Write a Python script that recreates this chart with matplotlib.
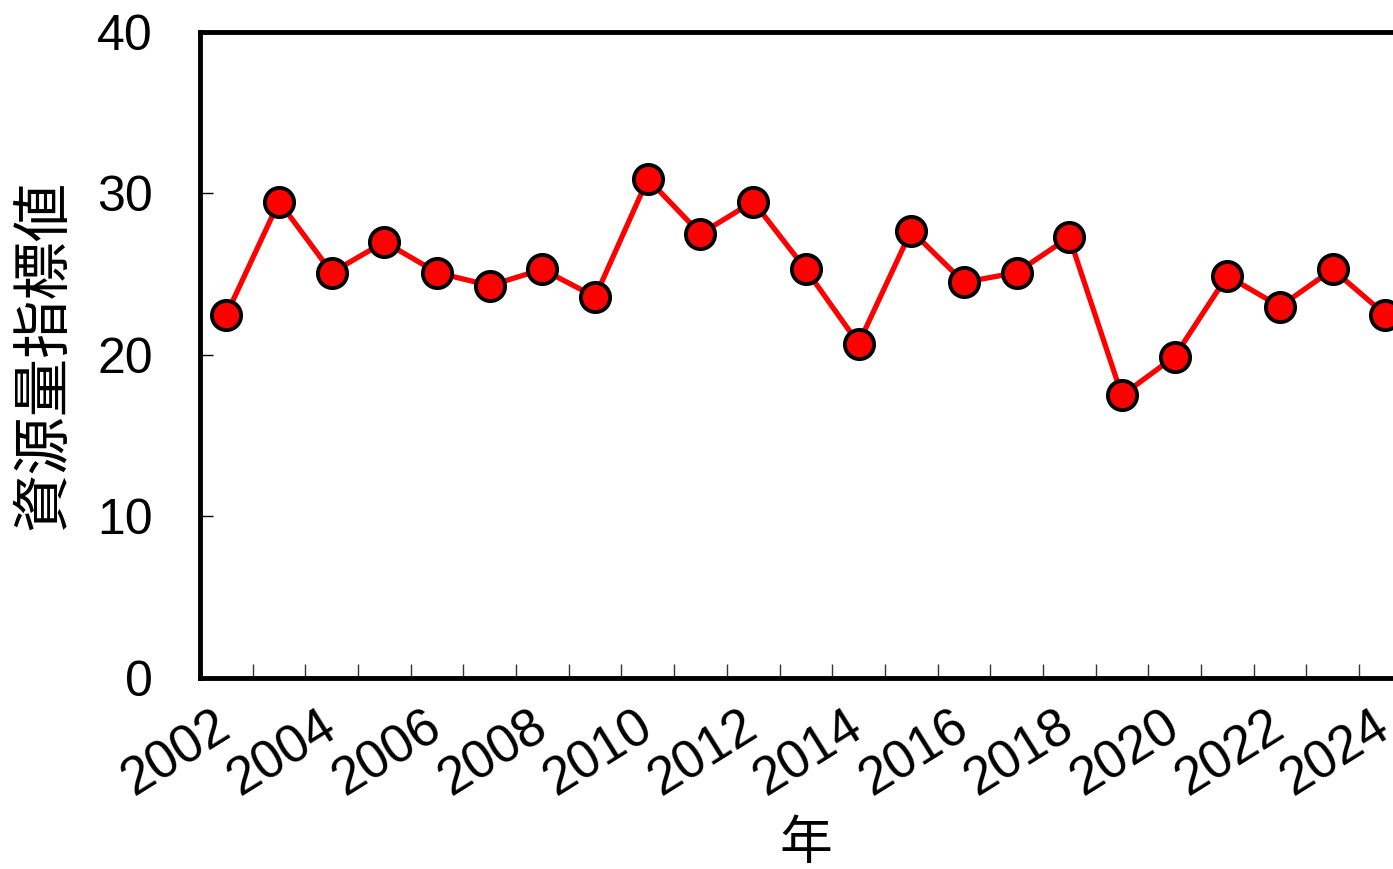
import numpy as np
import matplotlib
matplotlib.use("Agg")
import matplotlib.pyplot as plt

plt.rcParams['font.family'] = ['Liberation Sans', 'Noto Sans CJK JP']

years = list(range(2002, 2025))
values = [22.5, 29.5, 25.1, 27.0, 25.1, 24.3, 25.3, 23.6, 30.9, 27.5, 29.5, 25.3,
          20.7, 27.7, 24.5, 25.1, 27.3, 17.5, 19.9, 24.9, 23.0, 25.3, 22.5]
label_years = list(range(2002, 2025, 2))
y_ticks = [0, 10, 20, 30, 40]

fig = plt.figure(figsize=(13.93, 8.69), dpi=100)
ax = fig.add_axes([0.1436, 0.2198, 1.0134 - 0.1436, 0.9632 - 0.2198])

ax.plot(years, values, color='#ff0000', lw=3.8, marker='o', markersize=21,
        markerfacecolor='#ff0000', markeredgecolor='black', markeredgewidth=2.8,
        clip_on=False, zorder=3)

ax.set_xlim(2001.5, 2024.5)
ax.set_ylim(0, 40)

ax.set_xticks(label_years)
ax.set_xticklabels([str(y) for y in label_years], rotation=32, ha='right',
                   va='center', rotation_mode='anchor')
ax.set_xticks(np.arange(2002.5, 2024.5, 1), minor=True)
ax.tick_params(axis='x', which='major', length=0, labelsize=38, pad=32)
ax.tick_params(axis='x', which='minor', direction='in', length=10, width=1,
               color='#333333')

ax.set_yticks(y_ticks)
ax.tick_params(axis='y', direction='in', length=9, width=1, labelsize=36, pad=34)

for s in ['left', 'top', 'bottom', 'right']:
    ax.spines[s].set_linewidth(3.5)

ax.set_xlabel('年', fontsize=38, labelpad=10)
ax.set_ylabel('資源量指標値', fontsize=42, labelpad=18)

fig.savefig('out.png', dpi=100)
